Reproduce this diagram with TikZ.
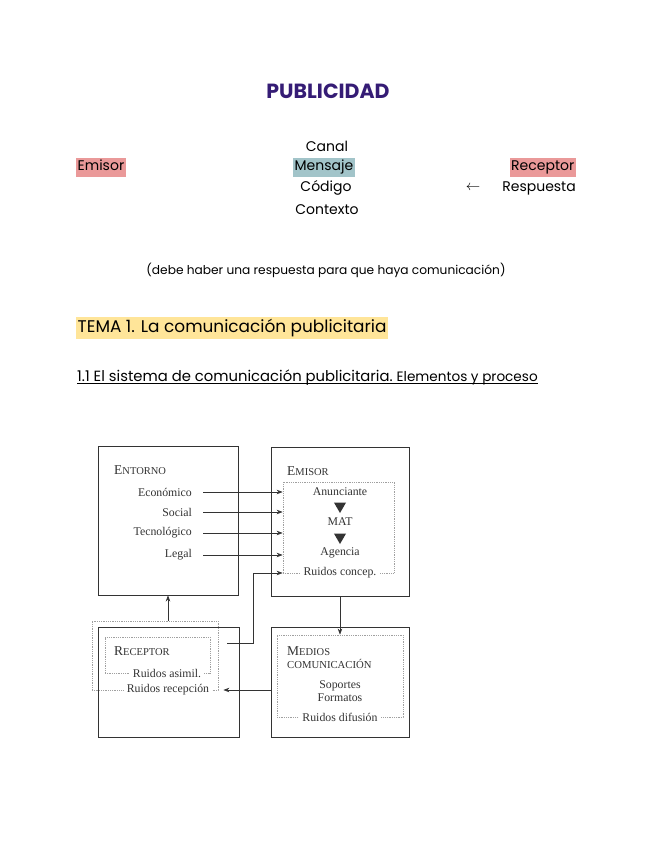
\documentclass[tikz,border=0pt]{standalone}
\usepackage{fontspec}
\setmainfont{Poppins}
\newfontfamily\diagfont{Liberation Serif}
\usetikzlibrary{arrows.meta,shapes.geometric}
\definecolor{titlepurple}{HTML}{351C75}
\definecolor{hlred}{HTML}{EA9999}
\definecolor{hlcyan}{HTML}{A2C4C9}
\definecolor{hlyellow}{HTML}{FFE599}
\definecolor{diag}{HTML}{333333}
\definecolor{dots}{HTML}{A0A0A0}
\newcommand\mysc[2]{{\fontsize{13.5}{14}\selectfont #1}{\fontsize{10.5}{12}\selectfont #2}}
\tikzset{
  txt/.style={inner sep=0pt, font=\fontsize{14}{16}\selectfont},
  hl/.style={txt, inner xsep=1.5pt, text height=11pt, text depth=4pt, inner ysep=2pt},
  box/.style={draw=diag, line width=0.9pt, minimum width=#1, inner sep=0pt},
  dotbox/.style={draw=dots, densely dotted, line width=0.8pt, inner sep=0pt},
  dtxt/.style={font=\diagfont\fontsize{11.8}{13}\selectfont, text=diag, inner sep=0pt},
  gaptxt/.style={dtxt, fill=white, inner xsep=3pt, inner ysep=1pt},
  arr/.style={-{Stealth[length=6pt,width=4.5pt]}, draw=diag, line width=0.6pt},
  tri/.style={fill=diag, regular polygon, regular polygon sides=3, shape border rotate=180, inner sep=0pt, minimum size=14pt}
}
\begin{document}
\begin{tikzpicture}[x=1pt,y=-1pt]
\useasboundingbox[fill=white] (0,0) rectangle (655,848);

% ---- header text ----
\node[txt, font=\bfseries\fontsize{20.5}{22}\selectfont, text=titlepurple] (title) at (328,91) {PUBLICIDAD};
\node[txt] (canal) at (327,146) {Canal};
\node[hl, fill=hlcyan] (mensaje) at (324,167) {Mensaje};
\node[txt] (codigo) at (326,188) {Código};
\node[txt] (contexto) at (327,210) {Contexto};
\node[hl, fill=hlred, anchor=west] (emisor) at (76,167) {Emisor};
\node[hl, fill=hlred, anchor=east] (receptor) at (576,167) {Receptor};
\node[txt, anchor=east] (respuesta) at (576,188) {Respuesta};
\node[txt] (flecha) at (473,188) {$\leftarrow$};
\node[txt, font=\fontsize{12.2}{14}\selectfont] (nota) at (326,270) {(debe haber una respuesta para que haya comunicación)};
\node[hl, fill=hlyellow, anchor=west, font=\fontsize{16.9}{19}\selectfont, text height=13pt, text depth=4.5pt] (tema) at (76,328) {TEMA 1. La comunicación publicitaria};
\node[txt, anchor=base west, font=\fontsize{14.8}{17}\selectfont] (sub) at (77,381) {1.1 El sistema de comunicación publicitaria.\ {\fontsize{13.6}{15}\selectfont Elementos y proceso}};
\draw[line width=0.8pt] ([yshift=-2.5pt]sub.base west) -- ([yshift=-2.5pt]sub.base east);

% ---- diagram boxes ----
\node[box=140pt, minimum height=149pt] (entorno) at (168,520.5) {};
\node[box=138pt, minimum height=149pt] (embox) at (340,521.5) {};
\node[dotbox, minimum width=111pt, minimum height=91pt] (emdot) at (338.5,527.5) {};
\node[box=138pt, minimum height=110pt] (medbox) at (340,682) {};
\node[dotbox, minimum width=126pt, minimum height=82pt] (meddot) at (340,676) {};
\node[box=141pt, minimum height=110pt] (recbox) at (168.5,682) {};
\node[dotbox, minimum width=126pt, minimum height=69pt] (recbig) at (155,655.5) {};
\node[dotbox, minimum width=105pt, minimum height=36pt] (recin) at (157.5,655) {};

% ---- Entorno ----
\node[dtxt, anchor=west] (tentorno) at (114,470) {\mysc{E}{NTORNO}};
\node[dtxt, anchor=east] (eco) at (192,492) {Económico};
\node[dtxt, anchor=east] (soc) at (192,512) {Social};
\node[dtxt, anchor=east] (tec) at (192,533) {Tecnológico};
\node[dtxt, anchor=east] (leg) at (192,555) {Legal};

% ---- Emisor ----
\node[dtxt, anchor=west] (temisor) at (287,471) {\mysc{E}{MISOR}};
\node[dtxt] (anun) at (340,492) {Anunciante};
\node[tri] (tri1) at (340,506) {};
\node[dtxt] (mat) at (340,522) {MAT};
\node[tri] (tri2) at (340,537) {};
\node[dtxt] (agen) at (340,553) {Agencia};
\node[gaptxt] (rconc) at (340,573) {Ruidos concep.};

% ---- Medios ----
\node[dtxt, anchor=west] (tmedios) at (287,651) {\mysc{M}{EDIOS}};
\node[dtxt, anchor=west] (tcomun) at (287,664) {\fontsize{10.7}{12}\selectfont COMUNICACIÓN};
\node[dtxt] (sop) at (340,686) {Soportes};
\node[dtxt] (form) at (340,698) {Formatos};
\node[gaptxt] (rdif) at (340,717) {Ruidos difusión};

% ---- Receptor ----
\node[dtxt, anchor=west] (treceptor) at (114,651) {\mysc{R}{ECEPTOR}};
\node[gaptxt] (rasim) at (167,673) {Ruidos asimil.};
\node[gaptxt] (rrec) at (168,690) {Ruidos recepción};

% ---- connectors ----
\foreach \n in {eco,soc,tec,leg}
  \draw[arr] ([xshift=11pt]\n.east) -- (\n.east -| emdot.west);
\coordinate (fb) at (227,643);
\draw[arr] (fb) -- ++(26,0) |- (emdot.west |- rconc);
\draw[arr] (embox.south) -- (meddot.north);
\draw[arr] (medbox.west |- rrec) -- ([xshift=5pt]recbig.east |- rrec);
\draw[arr] (entorno.south |- recbig.north) -- (entorno.south);
\end{tikzpicture}
\end{document}
